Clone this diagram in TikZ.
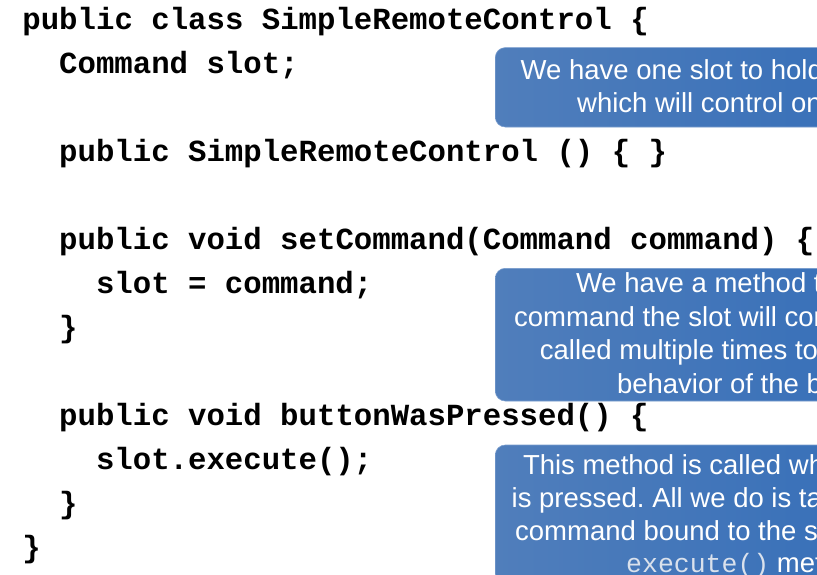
\documentclass[tikz,border=0pt]{standalone}
\usepackage{fontspec}
\setmainfont{Liberation Sans}
\setmonofont{Liberation Mono}
\frenchspacing
\definecolor{noteleft}{RGB}{80,126,187}
\definecolor{notemid}{RGB}{51,118,200}
\definecolor{noteright}{RGB}{46,106,184}
\definecolor{noteedge}{RGB}{120,156,205}
\definecolor{notecode}{RGB}{218,225,236}
\tikzset{
 codeline/.style={anchor=base west,inner sep=0pt,font=\ttfamily\bfseries\fontsize{30.7}{44}\selectfont},
 notebox/.style={anchor=north west,rounded corners=10pt,left color=noteleft,middle color=notemid,right color=noteright,draw=noteedge,line width=0.6pt,minimum width=505pt},
 noteline/.style={anchor=base west,inner sep=0pt,text=white,font=\fontsize{27.5}{33.5}\selectfont}
}
\begin{document}
\begin{tikzpicture}[x=1pt,y=-1pt]
 \path[use as bounding box,clip] (0,0) rectangle (817,574);
 \fill[white] (0,0) rectangle (817,574);
 % code, one line per row, level = indent
 \foreach \n/\l/\t in {0/0/{public class SimpleRemoteControl \{},
   1/1/{Command slot;},
   3/1/{public SimpleRemoteControl () \{ \}},
   5/1/{public void setCommand(Command command) \{},
   6/2/{slot = command;},
   7/1/{\}},
   9/1/{public void buttonWasPressed() \{},
   10/2/{slot.execute();},
   11/1/{\}},
   12/0/{\}}}
 \node[codeline] (code\n) at ({22.2+36.8*\l},{29.5+44*\n}) {\t};
 % callouts
 \node[notebox,minimum height=79.4pt] (slotnote) at (495,47.3) {};
 \node[notebox,minimum height=132.7pt] (setnote) at (495,268) {};
 \node[notebox,minimum height=170pt] (pressnote) at (495,444.7) {};
 \foreach \n/\x/\y/\t in {1/520.5/79/{We have one slot to hold},
   2/577/112.3/{which will control one}}
 \node[noteline] (slotline\n) at (\x,\y) {\t};
 \foreach \n/\x/\y/\t in {1/575.8/292.5/{We have a method to},
   2/514/326/{command the slot will control},
   3/539.7/359.7/{called multiple times to},
   4/616.8/393.3/{behavior of the button}}
 \node[noteline] (setline\n) at (\x,\y) {\t};
 \foreach \n/\x/\y/\t in {1/522.8/474.3/{This method is called when},
   2/511.5/507.3/{is pressed. All we do is take},
   3/515/540.5/{command bound to the slot}}
 \node[noteline] (pressline\n) at (\x,\y) {\t};
 \node[noteline] (pressline4) at (626,572) {{\ttfamily\mdseries\fontsize{26.5}{33.5}\selectfont\color{notecode}execute()} method};
\end{tikzpicture}
\end{document}
